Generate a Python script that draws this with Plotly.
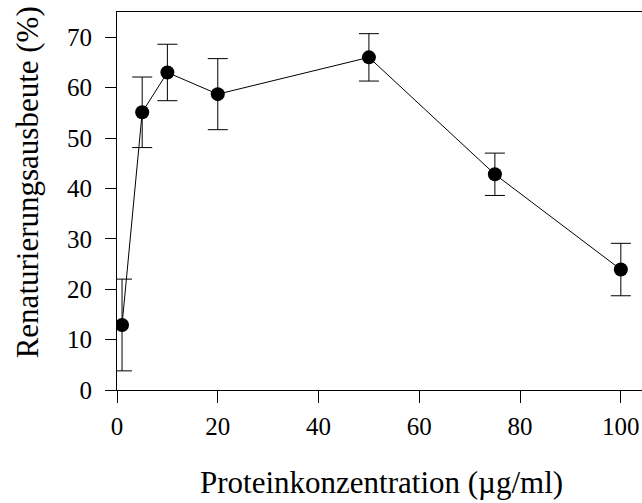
import plotly.graph_objects as go

# Data
concentration = [1, 5, 10, 20, 50, 75, 100]          # µg/ml
yield_pct = [12.9, 55.1, 63.0, 58.7, 66.0, 42.8, 23.9]  # %
error_pct = [9.1, 7.0, 5.6, 7.05, 4.7, 4.2, 5.2]

x_ticks = [0, 20, 40, 60, 80, 100]
y_ticks = [0, 10, 20, 30, 40, 50, 60, 70]

FONT = "Liberation Serif"

fig = go.Figure()
fig.add_trace(go.Scatter(
    x=concentration, y=yield_pct,
    mode="lines+markers",
    line=dict(color="black", width=1),
    marker=dict(color="black", size=14),
    error_y=dict(type="data", array=error_pct, visible=True,
                 color="black", thickness=1, width=10),
    showlegend=False,
))

fig.update_layout(
    width=642, height=503,
    margin=dict(l=117, r=0, t=12, b=113),
    paper_bgcolor="white", plot_bgcolor="white",
    font=dict(family=FONT, color="black"),
    xaxis=dict(range=[0, 104.2], tickvals=x_ticks, ticktext=[str(v) for v in x_ticks],
               showgrid=False, zeroline=False, showline=True, linecolor="black",
               linewidth=1, mirror=True, ticks="outside", ticklen=12, tickwidth=1,
               tickcolor="black", tickfont=dict(size=25, family=FONT),
               ticklabelstandoff=2),
    yaxis=dict(range=[0, 75], tickvals=y_ticks, ticktext=[str(v) for v in y_ticks],
               showgrid=False, zeroline=False, showline=True, linecolor="black",
               linewidth=1, ticks="outside", ticklen=11, tickwidth=1,
               tickcolor="black", tickfont=dict(size=25, family=FONT),
               ticklabelstandoff=8),
    annotations=[
        dict(text="Proteinkonzentration (µg/ml)", xref="paper", yref="paper",
             x=0.5045, y=-0.246, xanchor="center", yanchor="middle",
             showarrow=False, font=dict(size=31, family=FONT, color="black")),
        dict(text="Renaturierungsausbeute (%)", xref="paper", yref="paper",
             x=-0.1689, y=0.5503, xanchor="center", yanchor="middle", textangle=-90,
             showarrow=False, font=dict(size=31, family=FONT, color="black")),
    ],
)

fig.write_html("out.html")
